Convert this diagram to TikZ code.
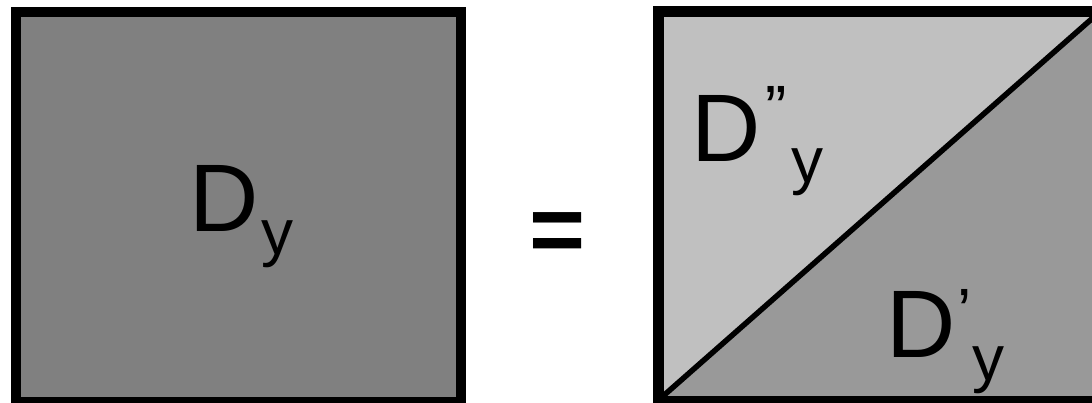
\documentclass[tikz,border=0pt]{standalone}
\usepackage{fontspec}
\setmainfont{Liberation Sans}
\usepackage{xcolor}
\usetikzlibrary{positioning, calc}

\definecolor{wholefill}{HTML}{808080}
\definecolor{upperfill}{HTML}{C0C0C0}
\definecolor{lowerfill}{HTML}{999999}

\begin{document}
\begin{tikzpicture}[x=1pt, y=-1pt,
    bigtxt/.style={inner sep=0pt, anchor=base west, font=\fontsize{96}{96}\selectfont},
    subtxt/.style={inner sep=0pt, anchor=base west, font=\fontsize{64}{64}\selectfont},
    frame/.style={draw=black, line width=10pt}]
    \useasboundingbox (0,0) rectangle (1092,403);

    % =========================================================
    % LEFT BLOCK: WHOLE DOMAIN
    % =========================================================
    \fill[wholefill] (15.5,12) rectangle (460.5,402);
    \draw[frame] (15.5,12) rectangle (460.5,402);
    \node[bigtxt] (dy) at (189,232) {D};
    \node[subtxt] (dysub) at (261,255) {y};

    % =========================================================
    % EQUALS SIGN
    % =========================================================
    \node[inner sep=0pt, anchor=base, font=\fontsize{96}{96}\selectfont\bfseries] (eq) at (558,263) {=};

    % =========================================================
    % RIGHT BLOCK: SPLIT ALONG THE DIAGONAL
    % =========================================================
    \coordinate (bl) at (662,397);
    \coordinate (tr) at (1095,16);
    \fill[lowerfill] (658.5,11.5) rectangle (1100,401.5);
    \fill[upperfill] (658.5,11.5) -- (1100,11.5) -- (658.5,400) -- cycle;
    \draw[black, line width=5.5pt] (bl) -- (tr);
    \draw[frame, line width=11pt] (658.5,11.5) rectangle (1100,401.5);

    \node[bigtxt] (dpp) at (691,162) {D};
    \node[subtxt] (dppmark) at (765,131) {''};
    \node[subtxt] (dppsub) at (791,183) {y};

    \node[bigtxt] (dp) at (886,357) {D};
    \node[subtxt] (dpmark) at (957,334) {'};
    \node[subtxt] (dpsub) at (972,380) {y};
\end{tikzpicture}
\end{document}
